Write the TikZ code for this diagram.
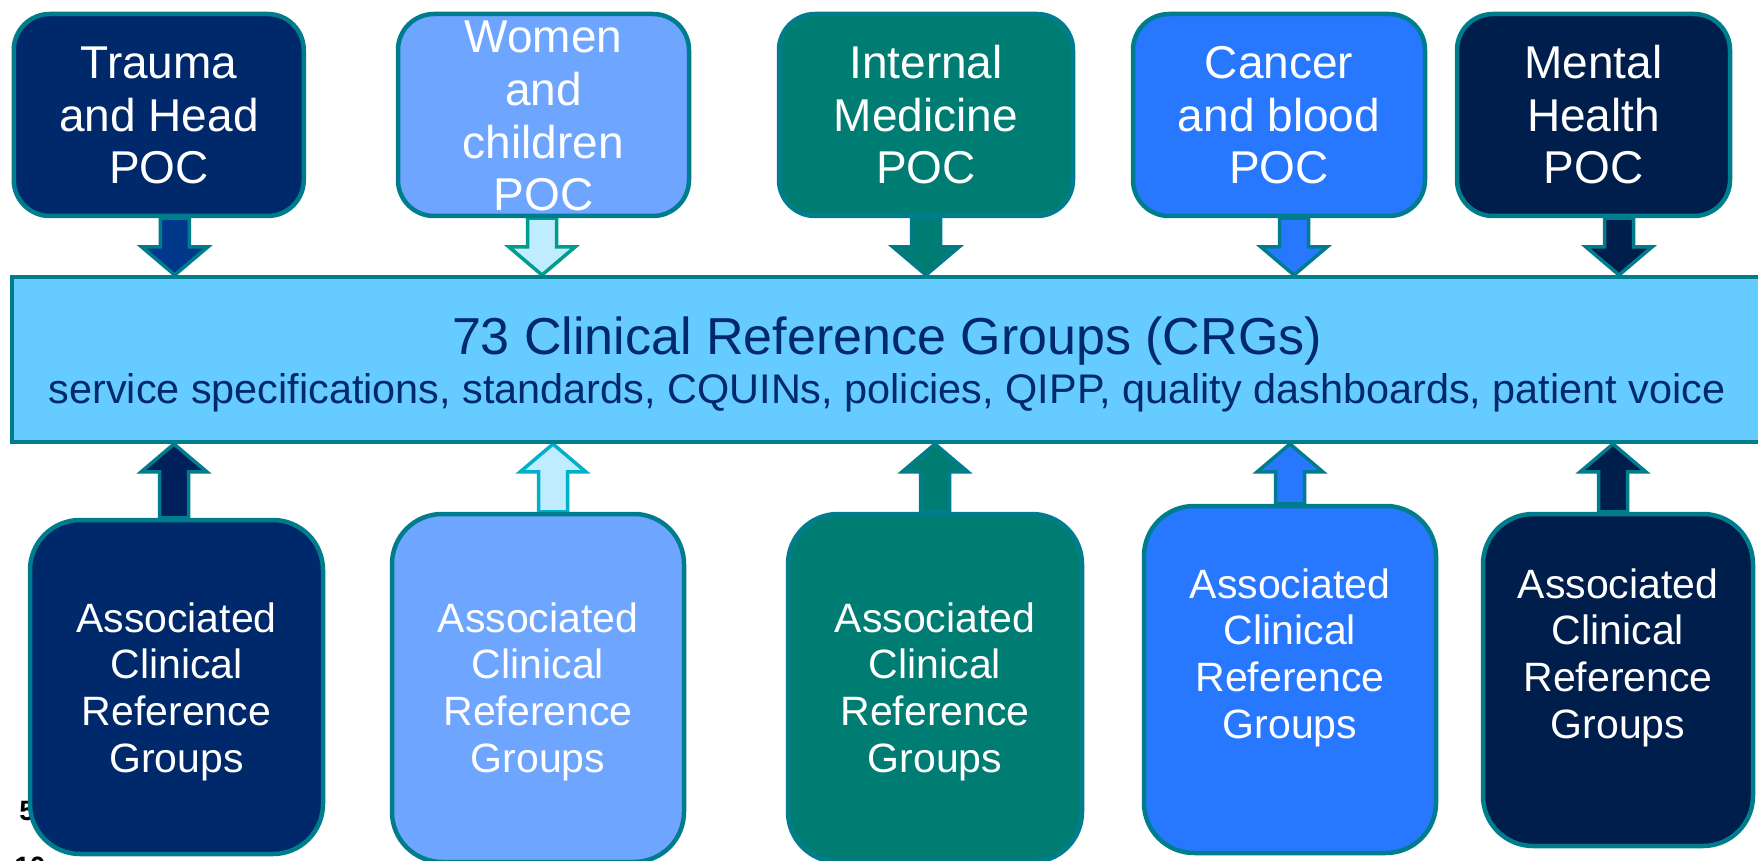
\documentclass[tikz,border=0pt]{standalone}
\usepackage{fontspec}
\setmainfont{Liberation Sans}
\usetikzlibrary{calc}
\pgfdeclarelayer{back}
\pgfsetlayers{back,main}

\definecolor{rim}{HTML}{007D8C}
\definecolor{navyA}{HTML}{00296B}
\definecolor{skyA}{HTML}{6EA5FF}
\definecolor{tealA}{HTML}{007D73}
\definecolor{blueA}{HTML}{2878FF}
\definecolor{navyB}{HTML}{001E4B}
\definecolor{barfill}{HTML}{66CCFF}
\definecolor{bartext}{HTML}{00286E}
\definecolor{arrnavy}{HTML}{00388C}
\definecolor{arrnavyB}{HTML}{00205C}
\definecolor{paleA}{HTML}{C0ECFF}
\definecolor{rimgreen}{HTML}{009C8C}
\definecolor{rimcyan}{HTML}{00B0C8}
\definecolor{rimteal}{HTML}{007A85}

\tikzset{
  pocbox/.style={draw=rim, line width=2.25pt, rounded corners=18pt, inner sep=0pt},
  crgbox/.style={draw=rim, line width=2.25pt, rounded corners=25pt, inner sep=0pt},
  % text blocks are placed by the baseline of their last line
  toptext/.style={text=white, align=center, anchor=base, inner sep=0pt,
    font=\fontsize{23pt}{26.4pt}\selectfont},
  bottext/.style={text=white, align=center, anchor=base, inner sep=0pt,
    font=\fontsize{20.5pt}{23.3pt}\selectfont},
  blk/.style={draw=rim, line width=1.75pt, line join=miter},
}

% block arrow: #1 start point, #2 point giving the tip height, #3 style, #4 signed head length
\newcommand\blockarrow[4]{%
  \draw[blk,#3] let \p1=(#1), \p2=(#2) in
    ({\x1-7.25pt},\y1) -- ({\x1-7.25pt},{\y2#4}) -- ({\x1-16.5pt},{\y2#4}) -- (\x1,\y2)
    -- ({\x1+16.5pt},{\y2#4}) -- ({\x1+7.25pt},{\y2#4}) -- ({\x1+7.25pt},\y1) -- cycle;}

\begin{document}
\begin{tikzpicture}[x=0.5pt,y=-0.5pt]
\useasboundingbox (0,0) rectangle (1758,861);
\clip (0,0) rectangle (1758,861);

% central bar
\node[draw=rim, line width=2pt, fill=barfill, minimum width=889pt, minimum height=82.5pt,
      inner sep=0pt] (crg) at (901,359.5) {};
\node[anchor=base, text=bartext, inner sep=0pt, font=\fontsize{26pt}{30pt}\selectfont]
      (title) at (887,355) {73 Clinical Reference Groups (CRGs)};
\node[anchor=base, text=bartext, inner sep=0pt, font=\fontsize{20.7pt}{24pt}\selectfont]
      (sub) at (887,404) {service specifications, standards, CQUINs, policies, QIPP, quality dashboards, patient voice};

% programmes of care
\node[pocbox, fill=navyA, minimum width=145pt,   minimum height=101pt] (p1) at (158.75,115) {};
\node[pocbox, fill=skyA,  minimum width=145.5pt, minimum height=101pt] (p2) at (543.5,115) {};
\node[pocbox, fill=tealA, minimum width=147pt,   minimum height=101pt] (p3) at (926,115) {};
\node[pocbox, fill=blueA, minimum width=146pt,   minimum height=101pt] (p4) at (1279,115) {};
\node[pocbox, fill=navyB, minimum width=136.5pt, minimum height=101pt] (p5) at (1593.5,115) {};

\node[toptext] (pt1) at (159,184)  {Trauma\\and Head\\POC};
\node[toptext] (pt2) at (543.5,211) {Women\\and\\children\\POC};
\node[toptext] (pt3) at (926,184) {Internal\\Medicine\\POC};
\node[toptext] (pt4) at (1279,184) {Cancer\\and blood\\POC};
\node[toptext] (pt5) at (1593.5,184) {Mental\\Health\\POC};

% associated clinical reference groups
\node[crgbox, fill=navyA, minimum width=146.5pt, minimum height=167pt]   (c1) at (176.5,687) {};
\node[crgbox, fill=skyA,  minimum width=146pt,   minimum height=174pt]   (c2) at (538,688) {};
\node[crgbox, fill=tealA, minimum width=147pt,   minimum height=174pt]   (c3) at (935,688) {};
\node[crgbox, fill=blueA, minimum width=146pt,   minimum height=173.5pt] (c4) at (1290,679.5) {};
\node[crgbox, fill=navyB, minimum width=135pt,   minimum height=166pt]   (c5) at (1618,680) {};

\node[bottext] (ct1) at (176.5,772) {Associated\\Clinical\\Reference\\Groups};
\node[bottext] (ct2) at (538,772)   {Associated\\Clinical\\Reference\\Groups};
\node[bottext] (ct3) at (935,772)   {Associated\\Clinical\\Reference\\Groups};
\node[bottext] (ct4) at (1290,738)  {Associated\\Clinical\\Reference\\Groups};
\node[bottext] (ct5) at (1618,738)  {Associated\\Clinical\\Reference\\Groups};

\begin{pgfonlayer}{back}
  % page numbers left behind the first box
  \node[anchor=base west, inner sep=0pt, font=\bfseries\fontsize{14pt}{16pt}\selectfont] (pg5) at (19,820) {5};
  \node[anchor=base west, inner sep=0pt, font=\bfseries\fontsize{14pt}{16pt}\selectfont] (pg10) at (14,876) {10};

  % arrows from the programmes down into the bar
  \blockarrow{$(p1.south)+(16,0)$}{crg.north}{fill=arrnavy}{+14pt}
  \blockarrow{$(p2.south)+(-1.5,0)$}{crg.north}{fill=paleA, draw=rimgreen}{+14pt}
  \blockarrow{$(p3.south)$}{crg.north}{fill=tealA, draw=rimteal}{+14pt}
  \blockarrow{$(p4.south)+(15,0)$}{crg.north}{fill=blueA}{+14pt}
  \blockarrow{$(p5.south)+(25.5,0)$}{crg.north}{fill=navyB}{+14pt}

  % arrows from the associated groups up into the bar
  \blockarrow{$(c1.north)+(-2.5,0)$}{crg.south}{fill=arrnavyB}{-14pt}
  \blockarrow{$(c2.north)+(15,0)$}{crg.south}{fill=paleA, draw=rimcyan}{-14pt}
  \blockarrow{$(c3.north)$}{crg.south}{fill=tealA}{-14pt}
  \blockarrow{$(c4.north)$}{crg.south}{fill=blueA}{-14pt}
  \blockarrow{$(c5.north)+(-5,0)$}{crg.south}{fill=navyB}{-14pt}
\end{pgfonlayer}
\end{tikzpicture}
\end{document}
